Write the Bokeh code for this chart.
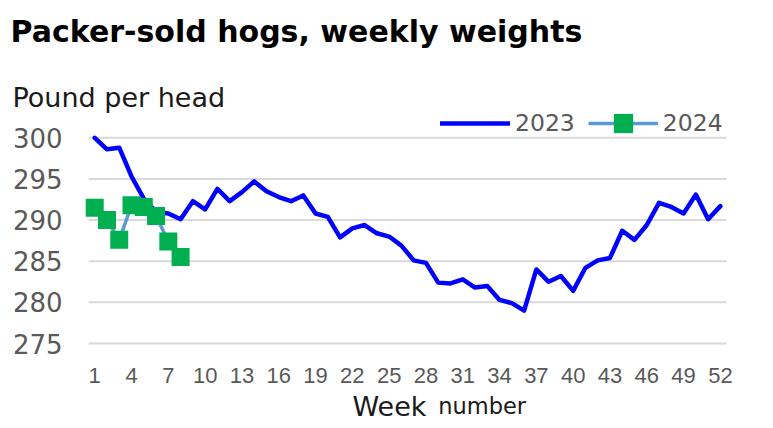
from bokeh.plotting import figure
from bokeh.models import Range1d, FixedTicker, Label, Legend, LegendItem, ColumnDataSource
from bokeh.embed import file_html
from bokeh.resources import INLINE

# ---- data ----
weeks_2023 = list(range(1, 53))
weights_2023 = [300.0, 298.6, 298.8, 295.3, 292.6, 291.0, 290.8, 290.1, 292.3, 291.3,
                293.8, 292.3, 293.4, 294.7, 293.5, 292.8, 292.3, 293.0, 290.8, 290.4,
                287.9, 289.0, 289.4, 288.4, 288.0, 286.9, 285.1, 284.8, 282.4, 282.3,
                282.8, 281.8, 282.0, 280.3, 279.9, 279.0, 284.0, 282.5, 283.2, 281.4,
                284.2, 285.1, 285.4, 288.7, 287.6, 289.4, 292.1, 291.6, 290.8, 293.1,
                290.1, 291.7]
weeks_2024 = [1, 2, 3, 4, 5, 6, 7, 8]
weights_2024 = [291.5, 290.0, 287.6, 291.8, 291.6, 290.5, 287.4, 285.5]

x_ticks = [1, 4, 7, 10, 13, 16, 19, 22, 25, 28, 31, 34, 37, 40, 43, 46, 49, 52]
y_ticks = [275, 280, 285, 290, 295, 300]

title_text = "Packer-sold hogs, weekly weights"
y_label_text = "Pound per head"
x_label_main = "Week"
x_label_sub = "number"
series_names = ["2023", "2024"]

FONT = "DejaVu Sans"
NARROW = "Liberation Sans"
TICK_COLOR = "#595959"
TEXT_COLOR = "#1a1a1a"

# the frame fills the whole canvas; axes are pinned with fixed_location
p = figure(width=773, height=428,
           x_range=Range1d(-6.68, 56.33), y_range=Range1d(264.67, 316.69),
           output_backend="svg", toolbar_location=None,
           min_border=0, min_border_left=0, min_border_right=0,
           min_border_top=0, min_border_bottom=0)
p.outline_line_color = None
p.background_fill_color = "white"
p.border_fill_color = "white"
p.xgrid.visible = False
p.ygrid.visible = False

# horizontal gridlines spanning the category area (weeks 0.5 .. 52.5)
grid_src = ColumnDataSource(dict(x0=[weeks_2023[0] - 0.5] * len(y_ticks),
                                 x1=[weeks_2023[-1] + 0.5] * len(y_ticks),
                                 y=y_ticks))
p.segment(x0="x0", y0="y", x1="x1", y1="y", source=grid_src,
          line_color="#D9D9D9", line_width=2)

# axes
p.xaxis.ticker = FixedTicker(ticks=x_ticks)
p.yaxis.ticker = FixedTicker(ticks=y_ticks)
p.xaxis.fixed_location = y_ticks[0]
p.yaxis.fixed_location = weeks_2023[0] - 0.5
for ax in (p.xaxis[0], p.yaxis[0]):
    ax.axis_line_color = None
    ax.major_tick_line_color = None
    ax.minor_tick_line_color = None
    ax.major_tick_out = 0
    ax.major_tick_in = 0
    ax.major_label_text_color = TICK_COLOR
p.xaxis.major_label_text_font = NARROW
p.xaxis.major_label_text_font_size = "22px"
p.xaxis.major_label_standoff = 24
p.yaxis.major_label_text_font = FONT
p.yaxis.major_label_text_font_size = "26px"
p.yaxis.major_label_standoff = 26

# series
src23 = ColumnDataSource(dict(x=weeks_2023, y=weights_2023))
src24 = ColumnDataSource(dict(x=weeks_2024, y=weights_2024))
r23 = p.line("x", "y", source=src23, line_color="#0000FF", line_width=4.5,
             line_join="round", line_cap="round")
r24l = p.line("x", "y", source=src24, line_color="#5B9BD5", line_width=3.5)
r24m = p.scatter("x", "y", source=src24, marker="square", size=18,
                 fill_color="#00B050", line_color=None)

legend = Legend(items=[LegendItem(label=series_names[0], renderers=[r23]),
                       LegendItem(label=series_names[1], renderers=[r24l, r24m])],
                location=(440, 281), orientation="horizontal",
                glyph_width=70, glyph_height=48, label_height=48,
                label_standoff=5, spacing=13, padding=0, margin=0,
                border_line_color=None, background_fill_alpha=0,
                label_text_font=FONT, label_text_font_size="23.5px",
                label_text_color=TICK_COLOR)
p.add_layout(legend, "center")

# texts
p.add_layout(Label(x=-5.86, y=312.9, text=title_text, text_font=FONT,
                   text_font_size="30px", text_font_style="bold",
                   text_color="black", text_baseline="alphabetic"))
p.add_layout(Label(x=-5.70, y=304.86, text=y_label_text, text_font=FONT,
                   text_font_size="27px", text_color=TEXT_COLOR,
                   text_baseline="alphabetic"))
p.add_layout(Label(x=22.01, y=267.38, text=x_label_main, text_font=FONT,
                   text_font_size="27px", text_color=TEXT_COLOR,
                   text_baseline="alphabetic"))
p.add_layout(Label(x=29.0, y=267.38, text=x_label_sub, text_font=FONT,
                   text_font_size="22.5px", text_color=TEXT_COLOR,
                   text_baseline="alphabetic"))

open("out.html", "w").write(file_html(p, INLINE))
